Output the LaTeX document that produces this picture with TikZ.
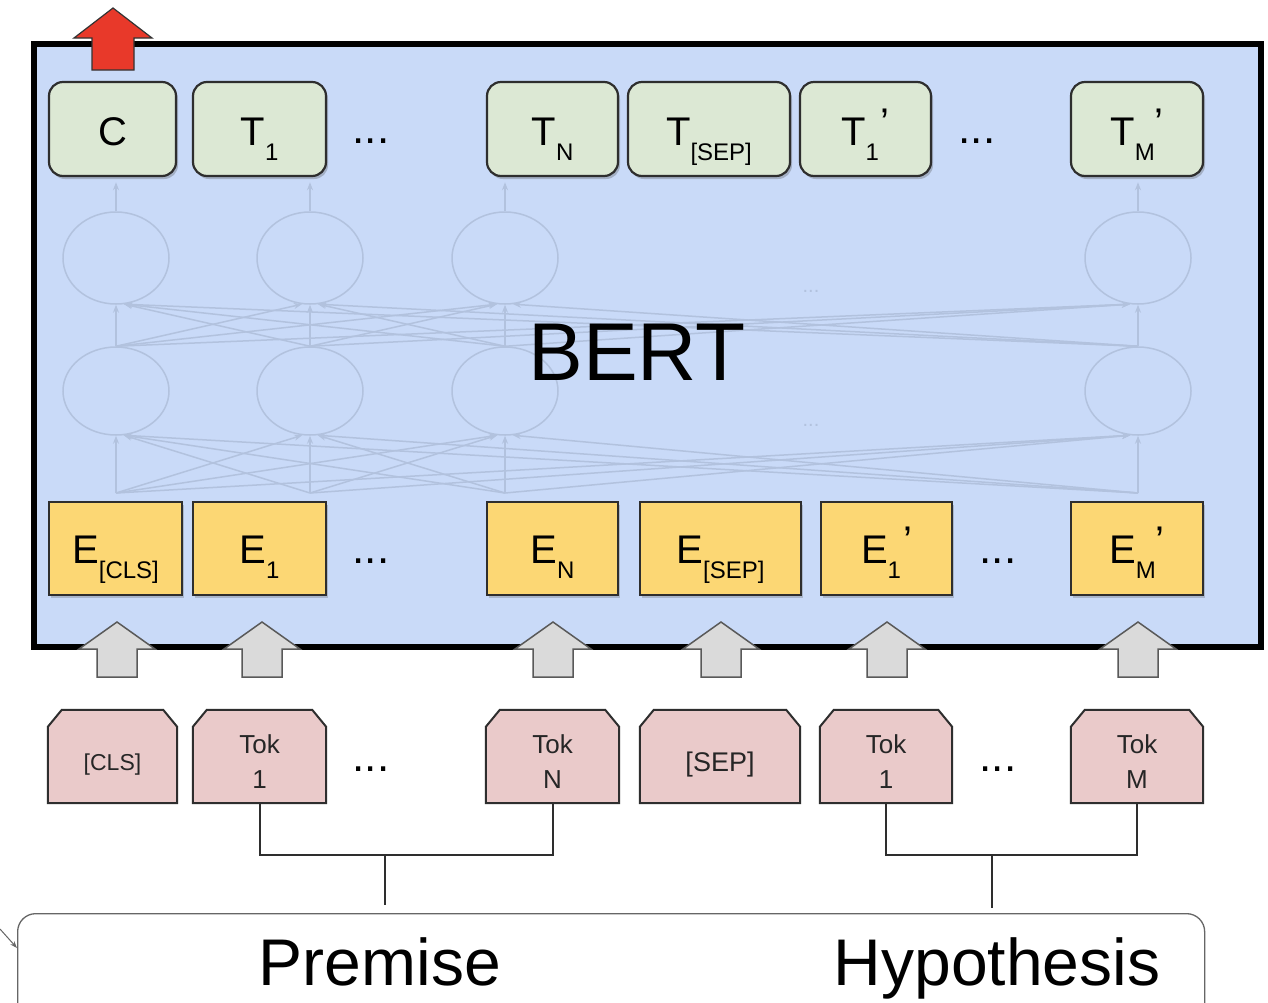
\documentclass[tikz,border=0pt]{standalone}
\usepackage{fontspec}
\setmainfont{Liberation Sans}
\usetikzlibrary{shapes.geometric,arrows.meta,shadows,calc}
\definecolor{bertblue}{HTML}{C9DAF8}
\definecolor{tgreen}{HTML}{DCE8D4}
\definecolor{eyellow}{HTML}{FCD774}
\definecolor{tokpink}{HTML}{EACACA}
\definecolor{arrgray}{HTML}{DADADA}
\definecolor{faint}{HTML}{B2C2DE}
\definecolor{bred}{HTML}{E8392A}
\definecolor{edgec}{HTML}{2E2E2E}
\newcommand\fsz[1]{\fontsize{#1}{#1}\selectfont}
\newcommand\sbx[2]{#1\raisebox{-15pt}{\fsz{24}#2}}
\newcommand\prm{\raisebox{9pt}{’}}
\begin{document}
\begin{tikzpicture}[x=1pt,y=-1pt,
  tbox/.style={draw=edgec, line width=2.2pt, rounded corners=14pt, fill=tgreen,
    minimum height=94pt, inner sep=0pt, text height=32pt, text depth=0pt, font=\fsz{40},
    drop shadow={shadow xshift=2pt, shadow yshift=-3pt, opacity=0.3, fill=black!70}},
  ebox/.style={draw=edgec, line width=2pt, fill=eyellow,
    minimum height=93pt, inner sep=0pt, text height=29pt, text depth=0pt, font=\fsz{40},
    drop shadow={shadow xshift=2pt, shadow yshift=-3pt, opacity=0.25, fill=black!70}},
  tokbox/.style={rectangle, minimum height=93pt, inner sep=0pt},
  tokshape/.style={draw=edgec, line width=2pt, fill=tokpink, line join=miter},
  toktxt/.style={anchor=base, font=\fsz{26}, text=black!85, inner sep=0pt},
  dots/.style={anchor=base, font=\fsz{44}, inner sep=0pt},
  neuron/.style={ellipse, draw=faint, line width=1.5pt, minimum width=106pt, inner sep=0pt},
  nlink/.style={draw=faint, line width=1.5pt, -{Stealth[length=8pt,width=6pt]}},
  garrow/.style={draw=black!65, line width=1.5pt, fill=arrgray},
  bracket/.style={draw=edgec, line width=2pt}
]
\useasboundingbox (0,0) rectangle (1268,1002);
\fill[white] (0,0) rectangle (1268,1002);

% main BERT box
\node[draw=black, line width=6pt, fill=bertblue, minimum width=1227pt, minimum height=603pt,
  inner sep=0pt, anchor=north west] (bert) at (31,41) {};

% network
\foreach \i/\x in {1/116,2/310,3/505,4/1138}{
  \node[neuron, minimum height=92pt] (u\i) at (\x,258) {};
  \node[neuron, minimum height=88pt] (l\i) at (\x,391) {};
  \coordinate (in\i) at (\x,493);
}
\foreach \i in {1,...,4}{
  \draw[nlink] (in\i) -- (l\i.south);
  \draw[nlink] (l\i.north) -- (u\i.south);
  \draw[nlink] (u\i.north) -- ++(0,-29);
}
\foreach \i in {1,...,4}{
  \foreach \j in {1,...,4}{
    \ifnum\i<\j
      \draw[nlink] (in\i) -- (l\j.-100);
      \draw[nlink] (l\i.north) -- (u\j.-100);
    \fi
    \ifnum\i>\j
      \draw[nlink] (in\i) -- (l\j.-80);
      \draw[nlink] (l\i.north) -- (u\j.-80);
    \fi
  }
}
\node[anchor=base, font=\fsz{20}, text=faint] (nd1) at (811,292) {...};
\node[anchor=base, font=\fsz{20}, text=faint] (nd2) at (811,426) {...};

\node[anchor=base, font=\fsz{82}, inner sep=0pt] (berttxt) at (637,380) {BERT};

% output row
\node[tbox, minimum width=127pt] (C) at (112.5,129) {C};
\node[tbox, minimum width=133pt] (T1) at (259.5,129) {\sbx{T}{1}};
\node[dots] (td1) at (371,143) {...};
\node[tbox, minimum width=131pt] (TN) at (552.5,129) {\sbx{T}{N}};
\node[tbox, minimum width=162pt] (TS) at (709,129) {\sbx{T}{[SEP]}};
\node[tbox, minimum width=131pt] (T1b) at (865.5,129) {\sbx{T}{1}\kern2pt\prm};
\node[dots] (td2) at (977,143) {...};
\node[tbox, minimum width=132pt] (TM) at (1137,129) {\sbx{T}{M}\prm};

% red output arrow
\draw[fill=bred, draw=black!80, line width=1.2pt] (92,70) -- (92,38) -- (74,38) -- (113,8) -- (152,38) -- (134,38) -- (134,70) -- cycle;

% embedding row
\node[ebox, minimum width=133pt] (E0) at (115.5,548.5) {\sbx{E}{[CLS]}};
\node[ebox, minimum width=133pt] (E1) at (259.5,548.5) {\sbx{E}{1}};
\node[dots] (ed1) at (371,563) {...};
\node[ebox, minimum width=131pt] (EN) at (552.5,548.5) {\sbx{E}{N}};
\node[ebox, minimum width=161pt] (ES) at (720.5,548.5) {\sbx{E}{[SEP]}};
\node[ebox, minimum width=131pt] (E1b) at (886.5,548.5) {\sbx{E}{1}\kern2pt\prm};
\node[dots] (ed2) at (998,563) {...};
\node[ebox, minimum width=132pt] (EM) at (1137,548.5) {\sbx{E}{M}\prm};

% gray input arrows
\foreach \c in {117,262,553,721,887,1138}{
  \draw[garrow] (\c-20,677) -- (\c-20,649) -- (\c-38,649) -- (\c,622) -- (\c+38,649) -- (\c+20,649) -- (\c+20,677) -- cycle;
}

% token row: boxes
\node[tokbox, minimum width=129pt] (k0) at (112.5,756.5) {};
\node[tokbox, minimum width=133pt] (k1) at (259.5,756.5) {};
\node[tokbox, minimum width=133pt] (kN) at (552.5,756.5) {};
\node[tokbox, minimum width=160pt] (kS) at (720,756.5) {};
\node[tokbox, minimum width=132pt] (k1b) at (886,756.5) {};
\node[tokbox, minimum width=132pt] (kM) at (1137,756.5) {};
\foreach \n in {k0,k1,kN,kS,k1b,kM}{
  \draw[tokshape] (\n.south west) -- ([yshift=-17pt]\n.north west) -- ([xshift=14pt]\n.north west)
    -- ([xshift=-14pt]\n.north east) -- ([yshift=-17pt]\n.north east) -- (\n.south east) -- cycle;
}
% token row: texts
\node[toktxt, font=\fsz{23}] (k0t) at (112.5,770) {[CLS]};
\node[toktxt] (k1t) at (259.5,753) {Tok};
\node[toktxt] (k1u) at (259.5,788) {1};
\node[dots] (kd1) at (371,771) {...};
\node[toktxt] (kNt) at (552.5,753) {Tok};
\node[toktxt] (kNu) at (552.5,788) {N};
\node[toktxt, font=\fsz{27}] (kSt) at (720,771) {[SEP]};
\node[toktxt] (k1bt) at (886,753) {Tok};
\node[toktxt] (k1bu) at (886,788) {1};
\node[dots] (kd2) at (998,771) {...};
\node[toktxt] (kMt) at (1137,753) {Tok};
\node[toktxt] (kMu) at (1137,788) {M};

% sentence box
\node[draw=black!60, line width=1.3pt, rounded corners=18pt, minimum width=1187pt, minimum height=130pt,
  inner sep=0pt, anchor=north west] (bb) at (17,913) {};
\node[anchor=base, font=\fsz{66}, inner sep=0pt] (prem) at (380,985) {Premise};
\node[anchor=base, font=\fsz{66}, inner sep=0pt] (hyp) at (997,985) {Hypothesis};

% brackets
\draw[bracket] (k1.south) -- ++(0,52) -| (kN.south);
\coordinate (pj) at (385,855);
\draw[bracket, shorten >=8pt] (pj) -- (pj |- bb.north);
\draw[bracket] (k1b.south) -- ++(0,52) -| (kM.south);
\coordinate (hj) at (992,855);
\draw[bracket, shorten >=5pt] (hj) -- (hj |- bb.north);

% small stray arrow
\coordinate (stub) at (0,929);
\draw[draw=black!60, line width=1pt, -{Stealth[length=7pt,width=5pt]}] (stub) -- ($(bb.north west)+(0,35)$);
\end{tikzpicture}
\end{document}
